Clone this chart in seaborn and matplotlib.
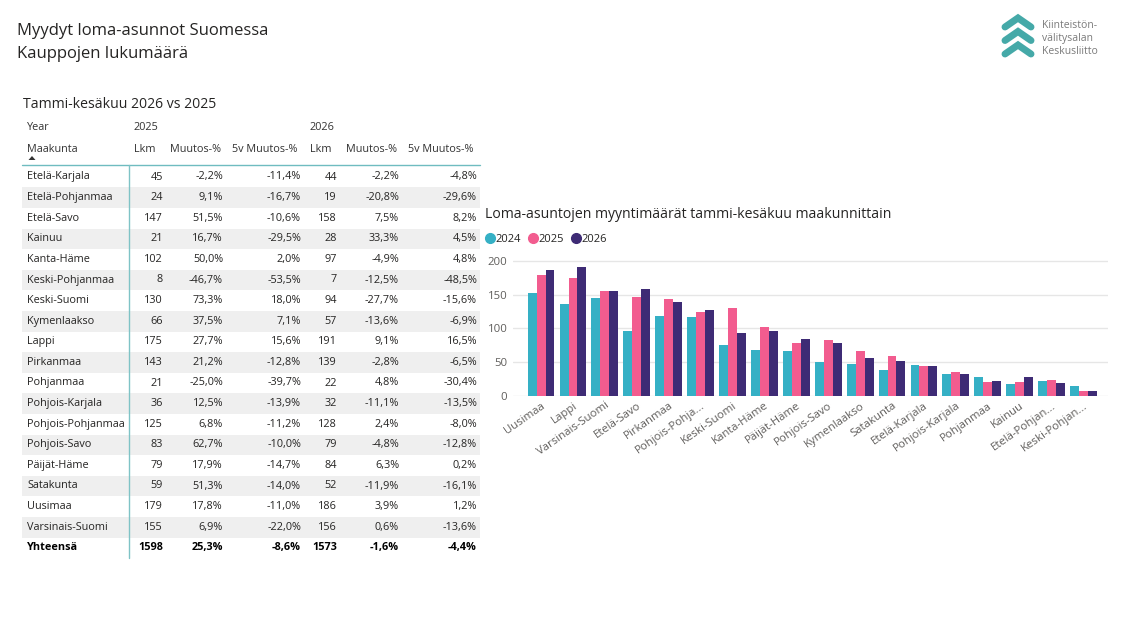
import numpy as np
import pandas as pd
import matplotlib
matplotlib.use("Agg")
import matplotlib.pyplot as plt
import seaborn as sns
from matplotlib.lines import Line2D

# ---------------- table data ----------------
regions = ["Etelä-Karjala", "Etelä-Pohjanmaa", "Etelä-Savo", "Kainuu", "Kanta-Häme",
           "Keski-Pohjanmaa", "Keski-Suomi", "Kymenlaakso", "Lappi", "Pirkanmaa",
           "Pohjanmaa", "Pohjois-Karjala", "Pohjois-Pohjanmaa", "Pohjois-Savo",
           "Päijät-Häme", "Satakunta", "Uusimaa", "Varsinais-Suomi"]
lkm_2025 = [45, 24, 147, 21, 102, 8, 130, 66, 175, 143, 21, 36, 125, 83, 79, 59, 179, 155]
muutos_2025 = [-2.2, 9.1, 51.5, 16.7, 50.0, -46.7, 73.3, 37.5, 27.7, 21.2, -25.0, 12.5, 6.8, 62.7, 17.9, 51.3, 17.8, 6.9]
muutos5_2025 = [-11.4, -16.7, -10.6, -29.5, 2.0, -53.5, 18.0, 7.1, 15.6, -12.8, -39.7, -13.9, -11.2, -10.0, -14.7, -14.0, -11.0, -22.0]
lkm_2026 = [44, 19, 158, 28, 97, 7, 94, 57, 191, 139, 22, 32, 128, 79, 84, 52, 186, 156]
muutos_2026 = [-2.2, -20.8, 7.5, 33.3, -4.9, -12.5, -27.7, -13.6, 9.1, -2.8, 4.8, -11.1, 2.4, -4.8, 6.3, -11.9, 3.9, 0.6]
muutos5_2026 = [-4.8, -29.6, 8.2, 4.5, 4.8, -48.5, -15.6, -6.9, 16.5, -6.5, -30.4, -13.5, -8.0, -12.8, 0.2, -16.1, 1.2, -13.6]
total_label = "Yhteensä"
total_2025 = [1598, 25.3, -8.6]
total_2026 = [1573, -1.6, -4.4]

# ---------------- chart data ----------------
chart_regions = ["Uusimaa", "Lappi", "Varsinais-Suomi", "Etelä-Savo", "Pirkanmaa",
                 "Pohjois-Pohjanmaa", "Keski-Suomi", "Kanta-Häme", "Päijät-Häme",
                 "Pohjois-Savo", "Kymenlaakso", "Satakunta", "Etelä-Karjala",
                 "Pohjois-Karjala", "Pohjanmaa", "Kainuu", "Etelä-Pohjanmaa", "Keski-Pohjanmaa"]
chart_labels = ["Uusimaa", "Lappi", "Varsinais-Suomi", "Etelä-Savo", "Pirkanmaa",
                "Pohjois-Pohja...", "Keski-Suomi", "Kanta-Häme", "Päijät-Häme",
                "Pohjois-Savo", "Kymenlaakso", "Satakunta", "Etelä-Karjala",
                "Pohjois-Karjala", "Pohjanmaa", "Kainuu", "Etelä-Pohjan...", "Keski-Pohjan..."]
v2024 = [152, 137, 145, 97, 118, 117, 75, 68, 67, 51, 48, 39, 46, 32, 28, 18, 22, 15]
v2025 = [179, 175, 155, 147, 143, 125, 130, 102, 79, 83, 66, 59, 45, 36, 21, 21, 24, 8]
v2026 = [186, 191, 156, 158, 139, 128, 94, 97, 84, 79, 57, 52, 44, 32, 22, 28, 19, 7]
years = ["2024", "2025", "2026"]
yticks = [0, 50, 100, 150, 200]

colors = ["#35B0C5", "#F25C8F", "#3E2B75"]

sns.set_theme(style="white")
plt.rcParams['font.family'] = ['Open Sans', 'DejaVu Sans']

fig = plt.figure(figsize=(11.32, 6.3), dpi=100)
fig.patch.set_facecolor("white")

# overlay axes in pixel coordinates for text/table/logo
bg = fig.add_axes([0, 0, 1, 1])
bg.set_xlim(0, 1132)
bg.set_ylim(630, 0)
bg.axis("off")

# ---- titles ----
bg.text(17, 31, "Myydyt loma-asunnot Suomessa", fontsize=12, color="#252423", va="center", ha="left")
bg.text(17, 54, "Kauppojen lukumäärä", fontsize=12, color="#252423", va="center", ha="left")

# ---- logo ----
logo_col = "#45A9A8"
for tip in [18, 31.5, 45]:
    bg.plot([1005, 1018, 1031], [tip + 9, tip, tip + 9], color=logo_col, lw=5,
            solid_capstyle="round", solid_joinstyle="miter")
for yy, t in zip([26, 39, 52], ["Kiinteistön-", "välitysalan", "Keskusliitto"]):
    bg.text(1042, yy, t, fontsize=7.5, color="#7a7a7a", va="center", ha="left")

# ---- table ----
bg.text(23, 104, "Tammi-kesäkuu 2026 vs 2025", fontsize=10.1, color="#252423", va="center", ha="left")
hdr_col = "#333333"
fs = 7.8
bg.text(27, 128, "Year", fontsize=fs, color=hdr_col, va="center")
bg.text(134, 128, "2025", fontsize=fs, color=hdr_col, va="center")
bg.text(310, 128, "2026", fontsize=fs, color=hdr_col, va="center")
for x, t in zip([27, 134, 170, 232, 310, 346, 408],
                ["Maakunta", "Lkm", "Muutos-%", "5v Muutos-%", "Lkm", "Muutos-%", "5v Muutos-%"]):
    bg.text(x, 149, t, fontsize=fs, color=hdr_col, va="center")
bg.fill([28.5, 35.5, 32], [160, 160, 156], color="#333333", lw=0)

row0, step = 177, 20.6
for i in range(len(regions)):
    yc = row0 + step * i
    if i % 2 == 1:
        bg.fill_between([22, 480], yc - step / 2, yc + step / 2, color="#EFEFEF", lw=0)

bg.plot([22, 480], [165, 165], color="#6FBCC0", lw=1)
bg.plot([129, 129], [165, 558], color="#7FC3C6", lw=1)

def pct(v):
    return f"{v:.1f}%".replace(".", ",")

right_x = [163, 223, 301, 337, 399, 477]
for i, r in enumerate(regions):
    yc = row0 + step * i
    bg.text(27, yc, r, fontsize=fs, color="#252423", va="center", ha="left")
    vals = [str(lkm_2025[i]), pct(muutos_2025[i]), pct(muutos5_2025[i]),
            str(lkm_2026[i]), pct(muutos_2026[i]), pct(muutos5_2026[i])]
    for x, v in zip(right_x, vals):
        bg.text(x, yc, v, fontsize=fs, color="#252423", va="center", ha="right")
yc = row0 + step * len(regions)
bg.text(27, yc, total_label, fontsize=fs, color="#000000", va="center", ha="left", fontweight="bold")
tvals = [str(total_2025[0]), pct(total_2025[1]), pct(total_2025[2]),
         str(total_2026[0]), pct(total_2026[1]), pct(total_2026[2])]
for x, v in zip(right_x, tvals):
    bg.text(x, yc, v, fontsize=fs, color="#000000", va="center", ha="right", fontweight="bold")

# ---- bar chart ----
bg.text(485, 214, "Loma-asuntojen myyntimäärät tammi-kesäkuu maakunnittain", fontsize=10.1,
        color="#252423", va="center", ha="left")

df = pd.DataFrame({"Maakunta": chart_regions, "2024": v2024, "2025": v2025, "2026": v2026})
long = df.melt(id_vars="Maakunta", var_name="Vuosi", value_name="Lkm")

ax = fig.add_axes([513 / 1132, (630 - 396) / 630, (1108 - 513) / 1132, (396 - 258) / 630])
sns.barplot(data=long, x="Maakunta", y="Lkm", hue="Vuosi", order=chart_regions,
            hue_order=years, palette=colors, saturation=1, width=0.84, gap=0,
            ax=ax, legend=False, errorbar=None, linewidth=0, edgecolor="none")
ax.set_xlim(-0.88, 17.77)
ax.set_ylim(0, 204.4)
ax.set_yticks(yticks)
ax.set_yticklabels([str(v) for v in yticks])
ax.grid(axis="y", color="#E6E6E6", lw=1)
ax.grid(axis="x", visible=False)
ax.set_axisbelow(True)
for s in ax.spines.values():
    s.set_visible(False)
ax.set_xlabel("")
ax.set_ylabel("")
ax.tick_params(axis="both", length=0, labelsize=8.2, colors="#605E5C")
ax.tick_params(axis="y", pad=4)
ax.tick_params(axis="x", pad=3)
ax.set_xticks(range(len(chart_regions)))
ax.set_xticklabels(chart_labels, rotation=35, ha="right", rotation_mode="anchor")
ax.set_facecolor("none")

handles = [Line2D([0], [0], marker="o", linestyle="", markersize=7,
                  markerfacecolor=c, markeredgecolor=c) for c in colors]
fig.legend(handles, years, loc="center left", bbox_to_anchor=(484 / 1132, 1 - 239 / 630),
           ncol=3, frameon=False, handletextpad=0.0, columnspacing=0.6, fontsize=8,
           labelcolor="#252423", borderpad=0, borderaxespad=0, handlelength=1.0)

fig.savefig("out.png", dpi=100, facecolor="white")
